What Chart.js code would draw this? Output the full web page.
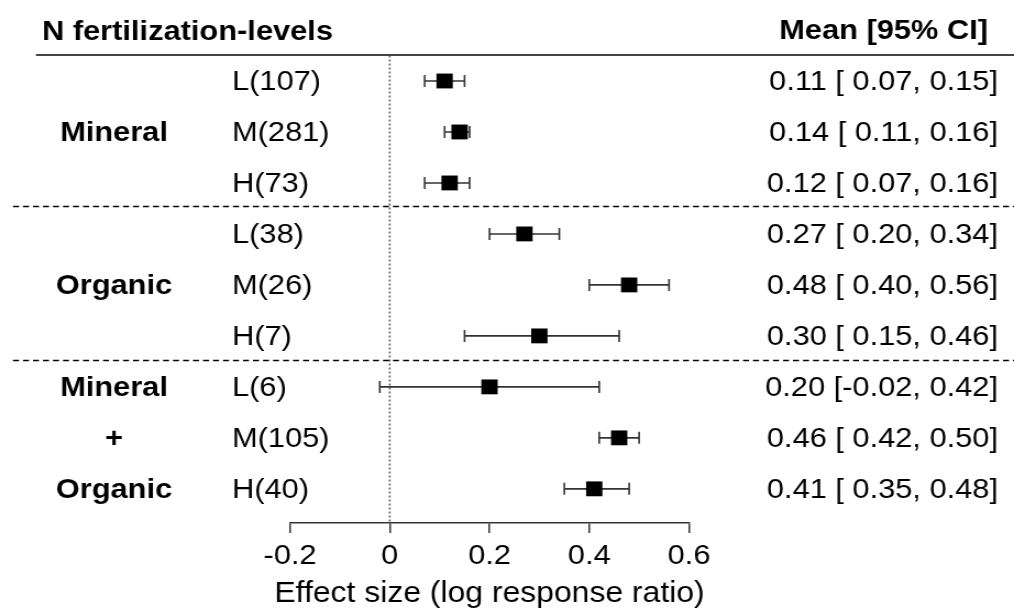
<!DOCTYPE html>
<html>
<head>
<meta charset="utf-8">
<script src="https://cdn.jsdelivr.net/npm/chart.js@4.4.1/dist/chart.umd.min.js"></script>
<style>
  html, body { margin: 0; padding: 0; background: #fff; }
</style>
</head>
<body>
<!-- source figure is stretched horizontally, so the canvas is too -->
<canvas id="forest" width="922" height="611" style="display:block;width:1014px;height:611px"></canvas>
<script>
const levels = ['L(107)', 'M(281)', 'H(73)', 'L(38)', 'M(26)', 'H(7)', 'L(6)', 'M(105)', 'H(40)'];
const means = [0.11, 0.14, 0.12, 0.27, 0.48, 0.30, 0.20, 0.46, 0.41];
const lower = [0.07, 0.11, 0.07, 0.20, 0.40, 0.15, -0.02, 0.42, 0.35];
const upper = [0.15, 0.16, 0.16, 0.34, 0.56, 0.46, 0.42, 0.50, 0.48];
const groupNames = ['Mineral', 'Organic', 'Mineral', '+', 'Organic'];
const groupRows = [2, 5, 7, 8, 9];
const separatorRows = [3.45, 6.48];
const xTicks = [-0.2, 0, 0.2, 0.4, 0.6];
const leftHeader = 'N fertilization-levels';
const rightHeader = 'Mean [95% CI]';
const xTitle = 'Effect size (log response ratio)';

const FONT = '"Liberation Sans", Arial, Helvetica, sans-serif';
const SX = 1014 / 922; // horizontal stretch of canvas

function ciText(i) {
  const lo = lower[i] < 0 ? lower[i].toFixed(2) : ' ' + lower[i].toFixed(2);
  return means[i].toFixed(2) + ' [' + lo + ', ' + upper[i].toFixed(2) + ']';
}

const forestPlugin = {
  id: 'forest',
  beforeDatasetsDraw(chart) {
    const { ctx, chartArea, scales: { x, y } } = chart;
    ctx.save();
    // dotted line of no effect
    const x0 = x.getPixelForValue(0);
    ctx.strokeStyle = '#555';
    ctx.lineWidth = 1.5;
    ctx.setLineDash([2, 2]);
    ctx.beginPath();
    ctx.moveTo(x0, chartArea.top);
    ctx.lineTo(x0, chartArea.bottom);
    ctx.stroke();

    // confidence intervals
    ctx.setLineDash([]);
    ctx.strokeStyle = '#333';
    ctx.lineWidth = 1.6;
    means.forEach((m, i) => {
      const py = y.getPixelForValue(i + 1);
      const a = x.getPixelForValue(lower[i]);
      const b = x.getPixelForValue(upper[i]);
      ctx.beginPath();
      ctx.moveTo(a, py); ctx.lineTo(b, py);
      ctx.moveTo(a, py - 6); ctx.lineTo(a, py + 6);
      ctx.moveTo(b, py - 6); ctx.lineTo(b, py + 6);
      ctx.stroke();
    });
    ctx.restore();
  },
  afterDraw(chart) {
    const { ctx, width, scales: { x, y } } = chart;
    ctx.save();

    // header
    ctx.fillStyle = '#000';
    ctx.textBaseline = 'middle';
    ctx.font = 'bold 28px ' + FONT;
    ctx.textAlign = 'left';
    ctx.fillText(leftHeader, 42 / SX, 32);
    ctx.textAlign = 'right';
    ctx.fillText(rightHeader, 988 / SX, 31);

    ctx.strokeStyle = '#444';
    ctx.lineWidth = 2;
    ctx.beginPath();
    ctx.moveTo(36 / SX, 55);
    ctx.lineTo(width, 55);
    ctx.stroke();

    // group separators
    ctx.strokeStyle = '#000';
    ctx.lineWidth = 1.5;
    ctx.setLineDash([6 / SX, 4 / SX]);
    separatorRows.forEach(r => {
      const py = Math.round(y.getPixelForValue(r)) + 0.5;
      ctx.beginPath();
      ctx.moveTo(13 / SX, py);
      ctx.lineTo(width, py);
      ctx.stroke();
    });
    ctx.setLineDash([]);

    // group names
    ctx.font = 'bold 28px ' + FONT;
    ctx.textAlign = 'center';
    groupNames.forEach((g, k) => {
      ctx.fillText(g, 114 / SX, y.getPixelForValue(groupRows[k]) + 1);
    });

    // level labels and CI text
    ctx.font = '28px ' + FONT;
    levels.forEach((lv, i) => {
      const py = y.getPixelForValue(i + 1) + 1;
      ctx.textAlign = 'left';
      ctx.fillText(lv, 232 / SX, py);
      ctx.textAlign = 'right';
      ctx.fillText(ciText(i), 998 / SX, py);
    });

    // axis title: chart.js squeezes it to the scale width, the original runs wider
    ctx.font = '29px ' + FONT;
    ctx.textAlign = 'center';
    ctx.fillText(xTitle, (x.left + x.right) / 2, 594);
    ctx.restore();
  }
};

new Chart(document.getElementById('forest'), {
  type: 'scatter',
  data: {
    datasets: [{
      data: means.map((m, i) => ({ x: m, y: i + 1 })),
      pointStyle: 'rect',
      pointRadius: 10.5,
      pointHoverRadius: 10.5,
      backgroundColor: '#000',
      borderWidth: 0,
      clip: false
    }]
  },
  options: {
    responsive: false,
    animation: false,
    devicePixelRatio: 1,
    layout: { padding: { left: 290 / SX, right: 1014 / SX - 689 / SX, top: 55.5, bottom: 0 } },
    plugins: { legend: { display: false }, tooltip: { enabled: false } },
    scales: {
      x: {
        type: 'linear',
        min: -0.2,
        max: 0.6,
        afterBuildTicks: s => { s.ticks = xTicks.map(v => ({ value: v })); },
        afterFit: s => { s.height = 88; },
        ticks: {
          color: '#000',
          font: { family: FONT, size: 28 },
          padding: 6,
          maxRotation: 0,
          autoSkip: false,
          callback: v => (Math.abs(v) < 1e-9 ? '0' : String(Number(v.toFixed(1))))
        },
        grid: { display: true, drawOnChartArea: false, drawTicks: true, tickLength: 10, color: '#333', lineWidth: 1.5 },
        border: { display: true, color: '#333', width: 1.5 },
        title: { display: false, text: xTitle }
      },
      y: {
        type: 'linear',
        min: 0.5,
        max: 9.67,
        reverse: true,
        display: false
      }
    }
  },
  plugins: [forestPlugin]
});
</script>
</body>
</html>
